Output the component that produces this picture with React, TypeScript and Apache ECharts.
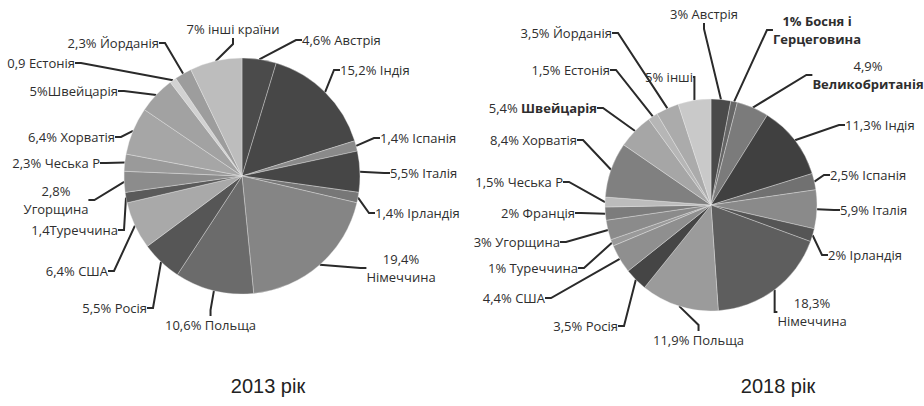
import React, { useEffect, useRef } from "react";
import * as echarts from "echarts";

// 2013
const countries2013 = ["Австрія", "Індія", "Іспанія", "Італія", "Ірландія", "Німеччина", "Польща", "Росія", "США", "Туреччина", "Угорщина", "Чеська Р", "Хорватія", "Швейцарія", "Естонія", "Йорданія", "інші країни"];
const values2013 = [4.6, 15.2, 1.4, 5.5, 1.4, 19.4, 10.6, 5.5, 6.4, 1.4, 2.8, 2.3, 6.4, 5, 0.9, 2.3, 7];
const labels2013 = ["4,6% Австрія", "15,2% Індія", "1,4% Іспанія", "5,5% Італія", "1,4% Ірландія", "19,4%\nНімеччина", "10,6% Польща", "5,5% Росія", "6,4% США", "1,4Туреччина", "2,8%\nУгорщина", "2,3% Чеська Р", "6,4% Хорватія", "5%Швейцарія", "0,9 Естонія", "2,3% Йорданія", "7% інші країни"];

// 2018
const countries2018 = ["Австрія", "Босня і Герцеговина", "Великобританія", "Індія", "Іспанія", "Італія", "Ірландія", "Німеччина", "Польща", "Росія", "США", "Туреччина", "Угорщина", "Франція", "Чеська Р", "Хорватія", "Швейцарія", "Естонія", "Йорданія", "інші"];
const values2018 = [3, 1, 4.9, 11.3, 2.5, 5.9, 2, 18.3, 11.9, 3.5, 4.4, 1, 3, 2, 1.5, 8.4, 5.4, 1.5, 3.5, 5];
const labels2018 = ["3% Австрія", "{b|1% Босня і}\n{b|Герцеговина}", "4,9%\n{b|Великобританія}", "11,3% Індія", "2,5% Іспанія", "5,9% Італія", "2% Ірландія", "18,3%\nНімеччина", "11,9% Польща", "3,5% Росія", "4,4% США", "1% Туреччина", "3% Угорщина", "2% Франція", "1,5% Чеська Р", "8,4% Хорватія", "5,4% {b|Швейцарія}", "1,5% Естонія", "3,5% Йорданія", "5% інші"];

const titles = ["2013 рік", "2018 рік"];

// styles (not data)
const colors2013 = ["#4b4b4b", "#474747", "#8a8a8a", "#464646", "#777777", "#858585", "#6b6b6b", "#565656", "#a9a9a9", "#5a5a5a", "#8c8c8c", "#9a9a9a", "#a6a6a6", "#a2a2a2", "#d2d2d2", "#9d9d9d", "#bdbdbd"];
const colors2018 = ["#4a4a4a", "#666666", "#7b7b7b", "#404040", "#717171", "#8a8a8a", "#555555", "#5e5e5e", "#9b9b9b", "#454545", "#8f8f8f", "#9a9a9a", "#8b8b8b", "#7c7c7c", "#bcbcbc", "#808080", "#a6a6a6", "#b6b6b6", "#ababab", "#c9c9c9"];

type Pos = [number, number, string];
const labelPos2013: Pos[] = [
  [302, 40, "left"], [340, 70, "left"], [380, 138, "left"], [390, 173, "left"], [375, 213, "left"],
  [401, 268, "center"], [165, 325, "left"], [147, 308, "right"], [108, 271, "right"], [118, 230, "right"],
  [56, 200, "center"], [100, 163, "right"], [115, 137, "right"], [118, 91, "right"], [75, 63, "right"],
  [159, 43, "right"], [233, 29, "center"],
];
const labelPos2018: Pos[] = [
  [704, 14, "center"], [817, 30, "center"], [868, 75, "center"], [845, 125, "left"], [830, 175, "left"],
  [840, 210, "left"], [828, 255, "left"], [812, 312, "center"], [653, 340, "left"], [618, 326, "right"],
  [545, 298, "right"], [578, 268, "right"], [560, 242, "right"], [575, 213, "right"], [563, 182, "right"],
  [577, 140, "right"], [597, 108, "right"], [610, 70, "right"], [612, 33, "right"], [669, 77, "center"],
];

const labelFont = { fontFamily: "Open Sans", fontSize: 13, color: "#2e2e2e" };

function buildData(names: string[], values: number[], labels: string[], colors: string[]) {
  return names.map((n, i) => ({
    name: n,
    value: values[i],
    itemStyle: { color: colors[i] },
    label: { formatter: labels[i] },
  }));
}

export default function App() {
  const ref = useRef<HTMLDivElement>(null);
  useEffect(() => {
    document.body.style.margin = "0";
    if (!ref.current) return;
    const chart = echarts.init(ref.current, undefined, { renderer: "svg" });
    const positions = [labelPos2013, labelPos2018];
    const common = {
      type: "pie",
      startAngle: 90,
      clockwise: true,
      avoidLabelOverlap: false,
      itemStyle: { borderColor: "rgba(235,235,235,0.6)", borderWidth: 0.6 },
      label: {
        show: true,
        position: "outside",
        ...labelFont,
        lineHeight: 18,
        rich: { b: { ...labelFont, fontWeight: "bold", lineHeight: 18 } },
      },
      labelLine: { show: true, length: 8, length2: 6, lineStyle: { color: "#2a2a2a", width: 2 } },
      emphasis: { disabled: true },
      labelLayout: (params: any) => {
        const p = positions[params.seriesIndex][params.dataIndex];
        return { x: p[0], y: p[1], align: p[2], verticalAlign: "middle" };
      },
    };
    chart.setOption({
      animation: false,
      backgroundColor: "#ffffff",
      title: [
        { text: titles[0], left: 263, top: 371, textAlign: "center", textStyle: { fontFamily: "Liberation Sans", fontSize: 20, fontWeight: "normal", color: "#222" } },
        { text: titles[1], left: 773, top: 371, textAlign: "center", textStyle: { fontFamily: "Liberation Sans", fontSize: 20, fontWeight: "normal", color: "#222" } },
      ],
      series: [
        { ...common, center: [242, 176], radius: 118, data: buildData(countries2013, values2013, labels2013, colors2013) },
        { ...common, center: [711, 205], radius: 106, data: buildData(countries2018, values2018, labels2018, colors2018) },
      ],
    });
    return () => chart.dispose();
  }, []);
  return <div ref={ref} style={{ width: 924, height: 406 }} />;
}
